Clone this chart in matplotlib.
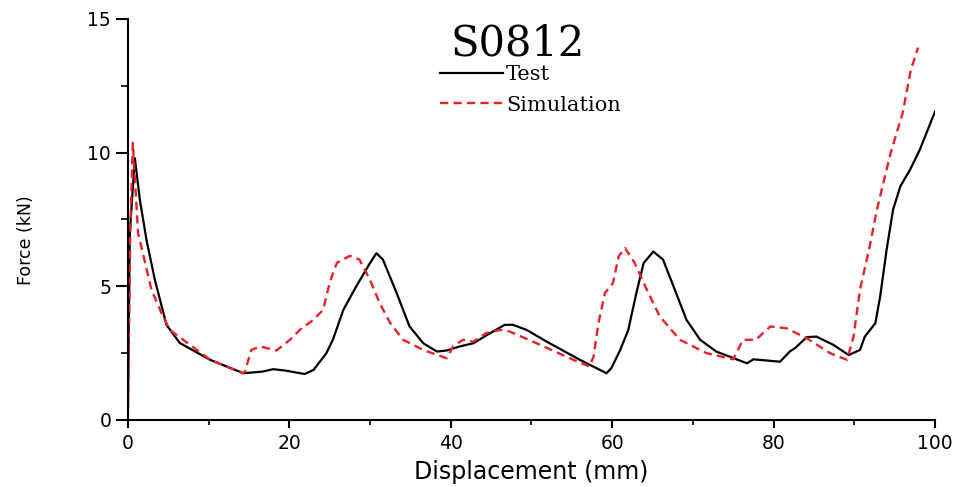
import matplotlib
matplotlib.use("Agg")
import matplotlib.pyplot as plt
from matplotlib.ticker import MultipleLocator

# force-displacement curves
test_x = [0, 0.25, 0.87, 1.49, 2.31, 3.35, 4.79, 6.44, 10.2, 14.3, 16.7, 18.0, 19.5,
          21.9, 23.0, 24.6, 25.4, 26.7, 28.3, 30.0, 30.8, 31.6, 33.3, 34.9, 36.6,
          38.3, 39.5, 41.1, 42.8, 44.9, 46.7, 47.7, 49.4, 51.9, 56.0, 59.3, 59.9,
          61.0, 62.0, 63.0, 63.9, 65.1, 66.3, 67.6, 69.2, 70.9, 72.9, 76.7, 77.5,
          80.8, 82.0, 82.7, 84.1, 85.3, 87.4, 89.3, 90.7, 91.3, 92.6, 93.2, 94.0,
          94.8, 95.7, 96.9, 98.1, 100]
test_y = [0, 7.0, 9.8, 8.24, 6.74, 5.24, 3.56, 2.88, 2.25, 1.75, 1.81, 1.9, 1.85,
          1.72, 1.87, 2.5, 3.0, 4.12, 5.0, 5.87, 6.24, 6.0, 4.75, 3.5, 2.87,
          2.56, 2.6, 2.75, 2.87, 3.25, 3.56, 3.56, 3.37, 2.93, 2.25, 1.75, 1.94,
          2.62, 3.37, 4.75, 5.87, 6.3, 6.0, 5.0, 3.75, 3.0, 2.56, 2.12, 2.27,
          2.18, 2.56, 2.7, 3.1, 3.12, 2.81, 2.43, 2.62, 3.12, 3.62, 4.62, 6.37,
          7.87, 8.74, 9.36, 10.1, 11.54]

sim_x = [0, 0.3, 0.62, 1.27, 2.93, 4.17, 5.2, 10.2, 14.3, 14.5, 15.3, 16.4, 18.4,
         20.1, 21.3, 23.0, 24.2, 25.0, 25.9, 27.5, 28.7, 30.0, 31.2, 32.5, 34.1,
         36.6, 39.5, 40.3, 41.5, 42.8, 44.4, 46.1, 47.3, 50.2, 55.2, 57.2, 57.7,
         58.3, 59.1, 60.1, 60.8, 61.6, 62.8, 64.3, 65.9, 68.4, 71.7, 75.0, 76.2,
         77.8, 79.6, 81.6, 84.1, 87.0, 89.1, 89.9, 90.7, 91.9, 92.8, 93.6, 94.5,
         96.0, 97.0, 97.9]
sim_y = [0, 7.0, 10.37, 7.0, 4.87, 4.0, 3.37, 2.25, 1.75, 1.81, 2.62, 2.75, 2.6,
         3.0, 3.37, 3.75, 4.12, 5.13, 5.88, 6.14, 6.0, 5.24, 4.37, 3.63, 3.0,
         2.62, 2.31, 2.75, 3.0, 2.93, 3.25, 3.37, 3.31, 2.93, 2.25, 2.0, 2.37,
         3.62, 4.75, 5.12, 6.12, 6.43, 5.87, 4.87, 3.87, 3.0, 2.5, 2.27, 3.0,
         3.0, 3.5, 3.43, 3.06, 2.5, 2.25, 3.12, 4.87, 6.49, 7.87, 8.87, 9.99,
         11.5, 13.1, 13.93]

x_ticks = [0, 20, 40, 60, 80, 100]
y_ticks = [0, 5, 10, 15]

fig = plt.figure(figsize=(9.61, 4.87), dpi=100)
ax = fig.add_axes([0.133, 0.1376, 0.84, 0.8234])

ax.plot(test_x, test_y, color="black", lw=1.6, label="Test")
ax.plot(sim_x, sim_y, color="#e8202a", lw=1.7, dashes=(3.5, 2.2), label="Simulation")

ax.set_xlim(0, 100)
ax.set_ylim(0, 15)
ax.set_xticks(x_ticks)
ax.set_yticks(y_ticks)
ax.xaxis.set_minor_locator(MultipleLocator(10))
ax.yaxis.set_minor_locator(MultipleLocator(2.5))
for s in ("top", "right"):
    ax.spines[s].set_visible(False)
for s in ("left", "bottom"):
    ax.spines[s].set_linewidth(1.5)
ax.tick_params(which="major", direction="out", width=1.5, labelsize=13.5)
ax.tick_params(axis="x", which="major", length=6, pad=4)
ax.tick_params(axis="y", which="major", length=8.5, pad=3.5)
ax.tick_params(axis="x", which="minor", direction="out", length=3.5, width=1.2)
ax.tick_params(axis="y", which="minor", direction="out", length=5, width=1.2)

ax.set_xlabel("Displacement (mm)", fontsize=17)
ax.xaxis.set_label_coords(0.5, -0.1)
ax.set_ylabel("Force (kN)", fontsize=12.5)
ax.yaxis.set_label_coords(-0.115, 0.449)

fig.text(0.5385, 0.887, "S0812", fontsize=30, family="DejaVu Serif",
         ha="center", va="baseline")
ax.legend(loc="upper left", bbox_to_anchor=(0.387, 0.885), frameon=False,
          prop={"family": "DejaVu Serif", "size": 15}, handlelength=3.0,
          handletextpad=0.15, labelspacing=0.55, borderaxespad=0, borderpad=0)

fig.savefig("out.png", dpi=100)
